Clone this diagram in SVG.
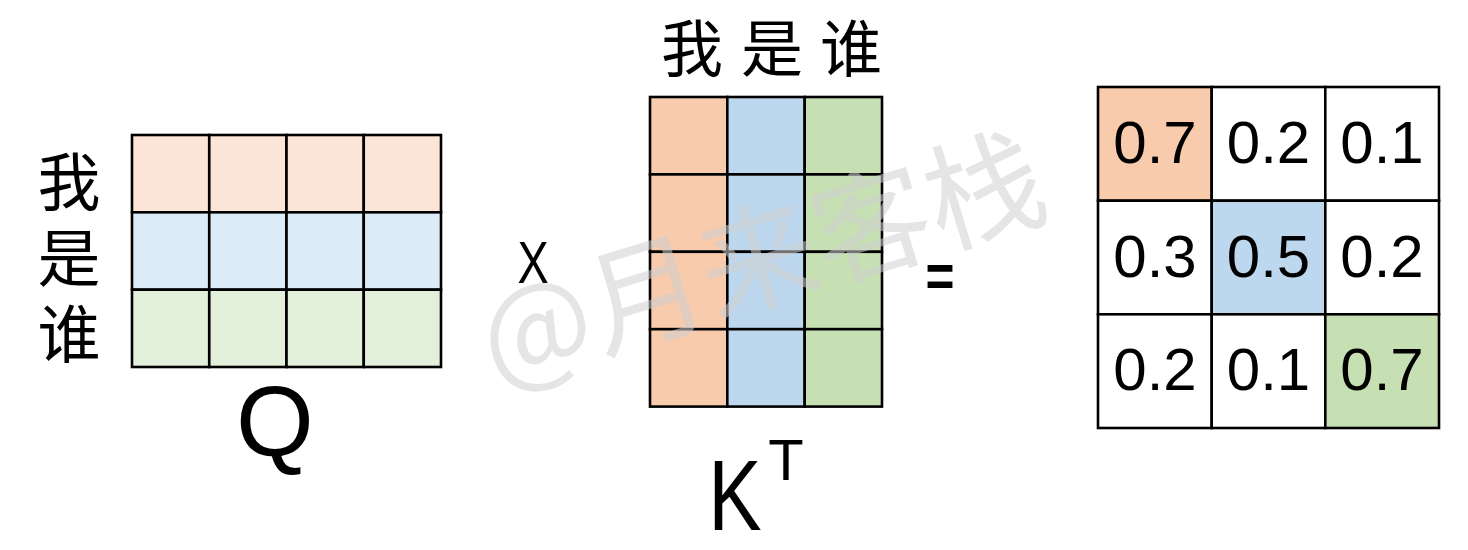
<svg xmlns="http://www.w3.org/2000/svg" width="1468" height="550" viewBox="0 0 1468 550">
<style>
.g{stroke:#000;stroke-width:2.6;}
.q1{fill:#FCE4D6}.q2{fill:#DDEBF7}.q3{fill:#E2EFDA}
.k1{fill:#F8CBAD}.k2{fill:#BDD7EE}.k3{fill:#C6E0B4}
.w{fill:#fff}
.cjk{font-family:"Noto Sans CJK SC","Noto Sans",sans-serif;fill:#000}
.lat{font-family:"Liberation Sans",Arial,sans-serif;fill:#000}
.num{font-family:"Liberation Sans",Arial,sans-serif;font-size:60px;text-anchor:middle;fill:#000}
</style>
<rect width="1468" height="550" fill="#fff"/>
<g id="q-labels">
<text class="cjk" font-size="63" x="69" y="150" writing-mode="vertical-rl" letter-spacing="13">我是谁</text>
</g>
<g id="matrix-q">
<rect class="q1 g" x="132" y="135" width="77.25" height="77.3"/>
<rect class="q1 g" x="209.25" y="135" width="77.25" height="77.3"/>
<rect class="q1 g" x="286.5" y="135" width="77.25" height="77.3"/>
<rect class="q1 g" x="363.75" y="135" width="77.25" height="77.3"/>
<rect class="q2 g" x="132" y="212.3" width="77.25" height="77.4"/>
<rect class="q2 g" x="209.25" y="212.3" width="77.25" height="77.4"/>
<rect class="q2 g" x="286.5" y="212.3" width="77.25" height="77.4"/>
<rect class="q2 g" x="363.75" y="212.3" width="77.25" height="77.4"/>
<rect class="q3 g" x="132" y="289.7" width="77.25" height="77.3"/>
<rect class="q3 g" x="209.25" y="289.7" width="77.25" height="77.3"/>
<rect class="q3 g" x="286.5" y="289.7" width="77.25" height="77.3"/>
<rect class="q3 g" x="363.75" y="289.7" width="77.25" height="77.3"/>
</g>
<g id="label-q"><text class="lat" font-size="100" x="275" y="456" text-anchor="middle">Q</text></g>
<g id="op-times"><text class="lat" font-size="60" x="533" y="283" text-anchor="middle" transform="translate(533 0) scale(0.78 1) translate(-533 0)">X</text></g>
<g id="k-labels">
<text class="cjk" font-size="62" text-anchor="middle"><tspan x="692" y="72">我</tspan><tspan x="772" y="72">是</tspan><tspan x="851" y="72">谁</tspan></text>
</g>
<g id="matrix-kt">
<rect class="k1 g" x="650" y="97" width="77.3" height="77.4"/>
<rect class="k1 g" x="650" y="174.4" width="77.3" height="77.4"/>
<rect class="k1 g" x="650" y="251.8" width="77.3" height="77.4"/>
<rect class="k1 g" x="650" y="329.2" width="77.3" height="77.4"/>
<rect class="k2 g" x="727.3" y="97" width="77.4" height="77.4"/>
<rect class="k2 g" x="727.3" y="174.4" width="77.4" height="77.4"/>
<rect class="k2 g" x="727.3" y="251.8" width="77.4" height="77.4"/>
<rect class="k2 g" x="727.3" y="329.2" width="77.4" height="77.4"/>
<rect class="k3 g" x="804.7" y="97" width="77.3" height="77.4"/>
<rect class="k3 g" x="804.7" y="174.4" width="77.3" height="77.4"/>
<rect class="k3 g" x="804.7" y="251.8" width="77.3" height="77.4"/>
<rect class="k3 g" x="804.7" y="329.2" width="77.3" height="77.4"/>
</g>
<g id="label-kt">
<text class="lat" font-size="100" x="735" y="530" text-anchor="middle" transform="translate(735 0) scale(0.8 1) translate(-735 0)">K</text>
<text class="lat" font-size="58" x="786" y="480" text-anchor="middle">T</text>
</g>
<g id="op-equals"><text class="lat" font-size="62" font-weight="bold" x="940" y="297" text-anchor="middle" transform="translate(940 0) scale(0.8 1) translate(-940 0)">=</text></g>
<g id="matrix-result">
<rect class="k1 g" x="1098" y="87" width="113.7" height="113.7"/>
<rect class="w g" x="1211.7" y="87" width="113.6" height="113.7"/>
<rect class="w g" x="1325.3" y="87" width="113.7" height="113.7"/>
<rect class="w g" x="1098" y="200.7" width="113.7" height="113.6"/>
<rect class="k2 g" x="1211.7" y="200.7" width="113.6" height="113.6"/>
<rect class="w g" x="1325.3" y="200.7" width="113.7" height="113.6"/>
<rect class="w g" x="1098" y="314.3" width="113.7" height="113.7"/>
<rect class="w g" x="1211.7" y="314.3" width="113.6" height="113.7"/>
<rect class="k3 g" x="1325.3" y="314.3" width="113.7" height="113.7"/>
<text class="num" x="1155" y="163">0.7</text>
<text class="num" x="1268.5" y="163">0.2</text>
<text class="num" x="1382" y="163">0.1</text>
<text class="num" x="1155" y="277">0.3</text>
<text class="num" x="1268.5" y="277">0.5</text>
<text class="num" x="1382" y="277">0.2</text>
<text class="num" x="1155" y="390">0.2</text>
<text class="num" x="1268.5" y="390">0.1</text>
<text class="num" x="1382" y="390">0.7</text>
</g>
<g id="watermark" opacity="0.55">
<text font-family="Noto Sans CJK SC,sans-serif" font-size="118" fill="#d0d0d0" x="495" y="385" transform="rotate(-17 495 385)">@月来客栈</text>
</g>
</svg>
